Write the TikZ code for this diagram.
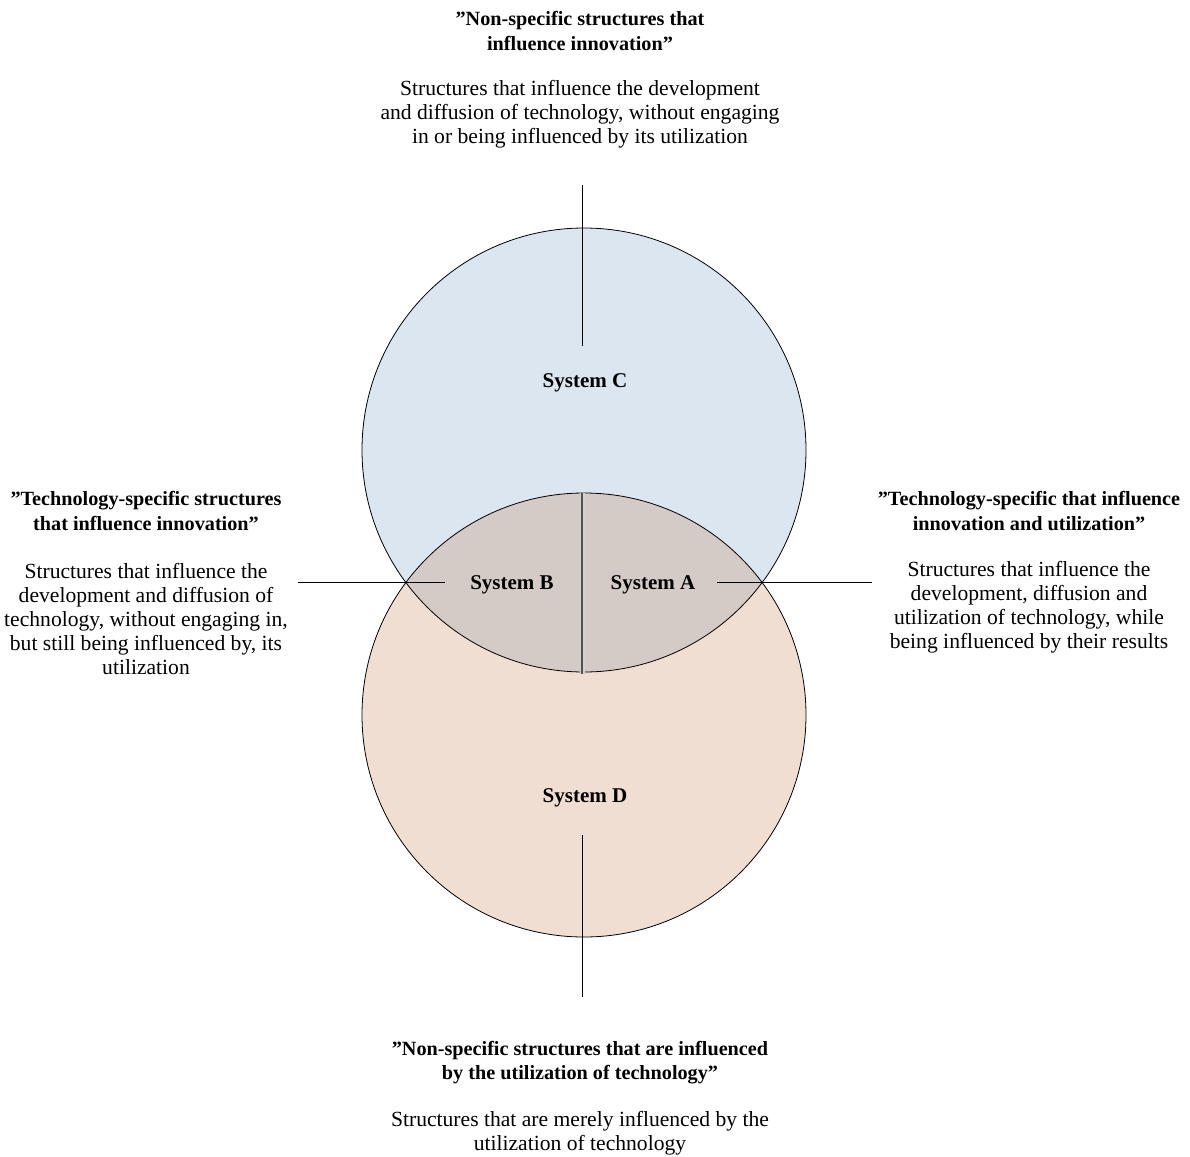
\documentclass[tikz,border=0pt]{standalone}
\usepackage{fontspec}
\setmainfont{Liberation Serif}
\begin{document}
\begin{tikzpicture}[x=1pt,y=-1pt,
  ring/.style={circle, draw=black, line width=0.8pt, minimum size=444pt, inner sep=0pt},
  tick/.style={line width=0.8pt, draw=black},
  head/.style={font=\fontsize{20.2}{24.2}\selectfont\bfseries, align=center, inner sep=0pt},
  body/.style={font=\fontsize{21.6}{24}\selectfont, align=center, inner sep=0pt},
  sys/.style={font=\fontsize{21}{24}\selectfont\bfseries, inner sep=0pt}]
\definecolor{cfill}{RGB}{220,230,240}
\definecolor{dfill}{RGB}{241,222,210}
\definecolor{lensfill}{RGB}{212,203,199}
\definecolor{divider}{RGB}{88,80,78}
\useasboundingbox (0,0) rectangle (1190,1156);
\fill[white] (0,0) rectangle (1190,1156);

% circle centres
\coordinate (cC) at (584,450);
\coordinate (cD) at (584,715);

% fills
\fill[cfill] (cC) circle (222pt);
\fill[dfill] (cD) circle (222pt);
\begin{scope}
  \clip (cC) circle (222pt);
  \fill[lensfill] (cD) circle (222pt);
\end{scope}

% outlines
\node[ring] (C) at (cC) {};
\node[ring] (D) at (cD) {};

% divider inside the overlap
\coordinate (lensTop) at (582,493);
\coordinate (lensBot) at (582,674);
\draw[line width=5pt, black!18, line cap=butt] ([xshift=0.5pt]lensTop) -- ([xshift=0.5pt]lensBot);
\draw[line width=2pt, divider] (lensTop) -- (lensBot);

% axis ticks
\coordinate (tTop1) at (582,185);
\coordinate (tTop2) at (582,346);
\coordinate (tBot1) at (582,835);
\coordinate (tBot2) at (582,997);
\coordinate (tL1) at (298,582);
\coordinate (tL2) at (445,582);
\coordinate (tR1) at (717,582);
\coordinate (tR2) at (872,582);
\draw[tick] (tTop1) -- (tTop2);
\draw[tick] (tBot1) -- (tBot2);
\draw[tick] (tL1) -- (tL2);
\draw[tick] (tR1) -- (tR2);

% system labels
\node[sys] (sC) at (585,383) {System C};
\node[sys] (sD) at (585,798) {System D};
\node[sys] (sB) at (512,585) {System B};
\node[sys] (sA) at (653,585) {System A};

% top block
\node[head] (hTop) at (580,31) {”Non-specific structures that\\influence innovation”};
\node[body] (bTop) at (580,114) {Structures that influence the development\\and diffusion of technology, without engaging\\in or being influenced by its utilization};

% left block
\node[head] (hLeft) at (146,511) {”Technology-specific structures\\that influence innovation”};
\node[body] (bLeft) at (146,619) {Structures that influence the\\development and diffusion of\\technology, without engaging in,\\but still being influenced by, its\\utilization};

% right block
\node[head] (hRight) at (1029,511) {”Technology-specific that influence\\innovation and utilization”};
\node[body] (bRight) at (1029,607) {Structures that influence the\\development, diffusion and\\utilization of technology, while\\being influenced by their results};

% bottom block
\node[head] (hBot) at (580,1063) {”Non-specific structures that are influenced\\by the utilization of technology”};
\node[body] (bBot) at (580,1133) {Structures that are merely influenced by the\\utilization of technology};
\end{tikzpicture}
\end{document}
